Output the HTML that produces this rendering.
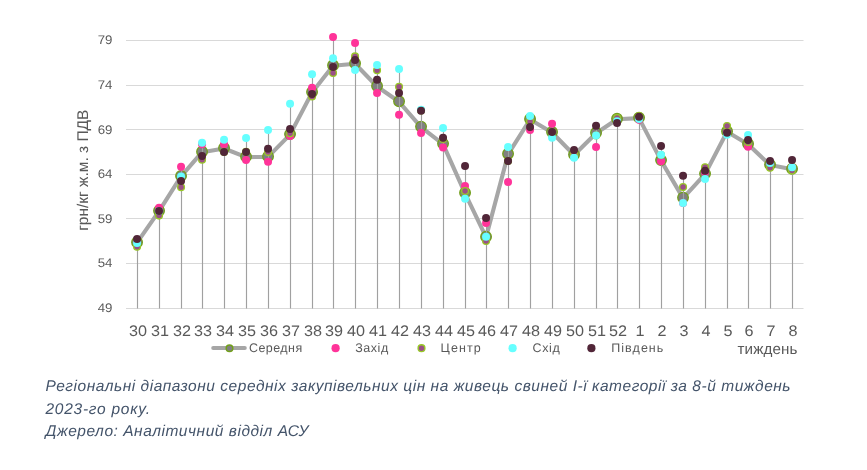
<!DOCTYPE html>
<html><head><meta charset="utf-8">
<style>
html,body{margin:0;padding:0;background:#fff;}
body{width:867px;height:470px;overflow:hidden;position:relative;}
svg{position:absolute;left:0;top:0;will-change:transform;}
text{font-family:"Liberation Sans",sans-serif;fill:#595959;text-rendering:geometricPrecision;}
.yt{font-size:12.5px;}
.xt{font-size:15.3px;}
.yti{font-size:15.5px;}
.lg{font-size:12.5px;}
.wk{font-size:15.2px;}
.cap{font-style:italic;fill:#44546A;font-size:15.5px;}
</style></head><body>
<svg width="867" height="470" viewBox="0 0 867 470">
<line x1="126" y1="40.5" x2="803.5" y2="40.5" stroke="#D9D9D9" stroke-width="1.05"/>
<line x1="126" y1="85.5" x2="803.5" y2="85.5" stroke="#D9D9D9" stroke-width="1.05"/>
<line x1="126" y1="129.5" x2="803.5" y2="129.5" stroke="#D9D9D9" stroke-width="1.05"/>
<line x1="126" y1="174.5" x2="803.5" y2="174.5" stroke="#D9D9D9" stroke-width="1.05"/>
<line x1="126" y1="218.5" x2="803.5" y2="218.5" stroke="#D9D9D9" stroke-width="1.05"/>
<line x1="126" y1="263.5" x2="803.5" y2="263.5" stroke="#D9D9D9" stroke-width="1.05"/>
<line x1="126" y1="308.5" x2="803.5" y2="308.5" stroke="#D9D9D9" stroke-width="1.05"/>
<text transform="translate(112.4,44.40) scale(1.06,1)" text-anchor="end" class="yt">79</text>
<text transform="translate(112.4,88.98) scale(1.06,1)" text-anchor="end" class="yt">74</text>
<text transform="translate(112.4,133.57) scale(1.06,1)" text-anchor="end" class="yt">69</text>
<text transform="translate(112.4,178.15) scale(1.06,1)" text-anchor="end" class="yt">64</text>
<text transform="translate(112.4,222.73) scale(1.06,1)" text-anchor="end" class="yt">59</text>
<text transform="translate(112.4,267.32) scale(1.06,1)" text-anchor="end" class="yt">54</text>
<text transform="translate(112.4,311.90) scale(1.06,1)" text-anchor="end" class="yt">49</text>
<polyline points="137.05,242.70 159.05,211.20 181.05,176.40 202.05,152.20 224.05,148.50 246.05,157.10 268.05,156.90 290.05,134.60 312.05,92.50 333.05,65.70 355.05,63.80 377.05,86.50 399.05,101.80 421.05,127.10 443.05,144.10 465.05,193.30 486.05,237.20 508.05,154.30 530.05,119.50 552.05,132.50 574.05,155.00 596.05,133.30 617.05,119.20 639.05,118.10 661.05,160.60 683.05,198.10 705.05,174.10 727.05,131.80 748.05,144.30 770.05,165.10 792.05,169.30" fill="none" stroke="#A6A6A6" stroke-width="4.1" stroke-linejoin="round" stroke-linecap="round"/>
<circle cx="137.05" cy="242.20" r="5.3" fill="#808080" stroke="#72A01A" stroke-width="1.3"/>
<circle cx="159.05" cy="210.70" r="5.3" fill="#808080" stroke="#72A01A" stroke-width="1.3"/>
<circle cx="181.05" cy="175.90" r="5.3" fill="#808080" stroke="#72A01A" stroke-width="1.3"/>
<circle cx="202.05" cy="151.70" r="5.3" fill="#808080" stroke="#72A01A" stroke-width="1.3"/>
<circle cx="224.05" cy="148.00" r="5.3" fill="#808080" stroke="#72A01A" stroke-width="1.3"/>
<circle cx="246.05" cy="156.60" r="5.3" fill="#808080" stroke="#72A01A" stroke-width="1.3"/>
<circle cx="268.05" cy="156.40" r="5.3" fill="#808080" stroke="#72A01A" stroke-width="1.3"/>
<circle cx="290.05" cy="134.10" r="5.3" fill="#808080" stroke="#72A01A" stroke-width="1.3"/>
<circle cx="312.05" cy="92.00" r="5.3" fill="#808080" stroke="#72A01A" stroke-width="1.3"/>
<circle cx="333.05" cy="65.20" r="5.3" fill="#808080" stroke="#72A01A" stroke-width="1.3"/>
<circle cx="355.05" cy="63.30" r="5.3" fill="#808080" stroke="#72A01A" stroke-width="1.3"/>
<circle cx="377.05" cy="86.00" r="5.3" fill="#808080" stroke="#72A01A" stroke-width="1.3"/>
<circle cx="399.05" cy="101.30" r="5.3" fill="#808080" stroke="#72A01A" stroke-width="1.3"/>
<circle cx="421.05" cy="126.60" r="5.3" fill="#808080" stroke="#72A01A" stroke-width="1.3"/>
<circle cx="443.05" cy="143.60" r="5.3" fill="#808080" stroke="#72A01A" stroke-width="1.3"/>
<circle cx="465.05" cy="192.80" r="5.3" fill="#808080" stroke="#72A01A" stroke-width="1.3"/>
<circle cx="486.05" cy="236.70" r="5.3" fill="#808080" stroke="#72A01A" stroke-width="1.3"/>
<circle cx="508.05" cy="153.80" r="5.3" fill="#808080" stroke="#72A01A" stroke-width="1.3"/>
<circle cx="530.05" cy="119.00" r="5.3" fill="#808080" stroke="#72A01A" stroke-width="1.3"/>
<circle cx="552.05" cy="132.00" r="5.3" fill="#808080" stroke="#72A01A" stroke-width="1.3"/>
<circle cx="574.05" cy="154.50" r="5.3" fill="#808080" stroke="#72A01A" stroke-width="1.3"/>
<circle cx="596.05" cy="132.80" r="5.3" fill="#808080" stroke="#72A01A" stroke-width="1.3"/>
<circle cx="617.05" cy="118.70" r="5.3" fill="#808080" stroke="#72A01A" stroke-width="1.3"/>
<circle cx="639.05" cy="117.60" r="5.3" fill="#808080" stroke="#72A01A" stroke-width="1.3"/>
<circle cx="661.05" cy="160.10" r="5.3" fill="#808080" stroke="#72A01A" stroke-width="1.3"/>
<circle cx="683.05" cy="197.60" r="5.3" fill="#808080" stroke="#72A01A" stroke-width="1.3"/>
<circle cx="705.05" cy="173.60" r="5.3" fill="#808080" stroke="#72A01A" stroke-width="1.3"/>
<circle cx="727.05" cy="131.30" r="5.3" fill="#808080" stroke="#72A01A" stroke-width="1.3"/>
<circle cx="748.05" cy="143.80" r="5.3" fill="#808080" stroke="#72A01A" stroke-width="1.3"/>
<circle cx="770.05" cy="164.60" r="5.3" fill="#808080" stroke="#72A01A" stroke-width="1.3"/>
<circle cx="792.05" cy="168.80" r="5.3" fill="#808080" stroke="#72A01A" stroke-width="1.3"/>
<line x1="137.50" y1="238.90" x2="137.50" y2="308.5" stroke="#A0A0A0" stroke-width="1.15"/>
<line x1="159.50" y1="207.70" x2="159.50" y2="308.5" stroke="#A0A0A0" stroke-width="1.15"/>
<line x1="181.50" y1="166.80" x2="181.50" y2="308.5" stroke="#A0A0A0" stroke-width="1.15"/>
<line x1="202.50" y1="142.80" x2="202.50" y2="308.5" stroke="#A0A0A0" stroke-width="1.15"/>
<line x1="224.50" y1="139.70" x2="224.50" y2="308.5" stroke="#A0A0A0" stroke-width="1.15"/>
<line x1="246.50" y1="137.90" x2="246.50" y2="308.5" stroke="#A0A0A0" stroke-width="1.15"/>
<line x1="268.50" y1="130.10" x2="268.50" y2="308.5" stroke="#A0A0A0" stroke-width="1.15"/>
<line x1="290.50" y1="103.80" x2="290.50" y2="308.5" stroke="#A0A0A0" stroke-width="1.15"/>
<line x1="312.50" y1="74.30" x2="312.50" y2="308.5" stroke="#A0A0A0" stroke-width="1.15"/>
<line x1="333.50" y1="37.00" x2="333.50" y2="308.5" stroke="#A0A0A0" stroke-width="1.15"/>
<line x1="355.50" y1="42.90" x2="355.50" y2="308.5" stroke="#A0A0A0" stroke-width="1.15"/>
<line x1="377.50" y1="64.90" x2="377.50" y2="308.5" stroke="#A0A0A0" stroke-width="1.15"/>
<line x1="399.50" y1="68.90" x2="399.50" y2="308.5" stroke="#A0A0A0" stroke-width="1.15"/>
<line x1="421.50" y1="109.80" x2="421.50" y2="308.5" stroke="#A0A0A0" stroke-width="1.15"/>
<line x1="443.50" y1="128.00" x2="443.50" y2="308.5" stroke="#A0A0A0" stroke-width="1.15"/>
<line x1="465.50" y1="165.90" x2="465.50" y2="308.5" stroke="#A0A0A0" stroke-width="1.15"/>
<line x1="486.50" y1="218.00" x2="486.50" y2="308.5" stroke="#A0A0A0" stroke-width="1.15"/>
<line x1="508.50" y1="147.00" x2="508.50" y2="308.5" stroke="#A0A0A0" stroke-width="1.15"/>
<line x1="530.50" y1="115.90" x2="530.50" y2="308.5" stroke="#A0A0A0" stroke-width="1.15"/>
<line x1="552.50" y1="123.70" x2="552.50" y2="308.5" stroke="#A0A0A0" stroke-width="1.15"/>
<line x1="574.50" y1="150.00" x2="574.50" y2="308.5" stroke="#A0A0A0" stroke-width="1.15"/>
<line x1="596.50" y1="125.80" x2="596.50" y2="308.5" stroke="#A0A0A0" stroke-width="1.15"/>
<line x1="617.50" y1="118.00" x2="617.50" y2="308.5" stroke="#A0A0A0" stroke-width="1.15"/>
<line x1="639.50" y1="116.00" x2="639.50" y2="308.5" stroke="#A0A0A0" stroke-width="1.15"/>
<line x1="661.50" y1="145.90" x2="661.50" y2="308.5" stroke="#A0A0A0" stroke-width="1.15"/>
<line x1="683.50" y1="175.80" x2="683.50" y2="308.5" stroke="#A0A0A0" stroke-width="1.15"/>
<line x1="705.50" y1="167.20" x2="705.50" y2="308.5" stroke="#A0A0A0" stroke-width="1.15"/>
<line x1="727.50" y1="126.00" x2="727.50" y2="308.5" stroke="#A0A0A0" stroke-width="1.15"/>
<line x1="748.50" y1="135.00" x2="748.50" y2="308.5" stroke="#A0A0A0" stroke-width="1.15"/>
<line x1="770.50" y1="160.90" x2="770.50" y2="308.5" stroke="#A0A0A0" stroke-width="1.15"/>
<line x1="792.50" y1="159.90" x2="792.50" y2="308.5" stroke="#A0A0A0" stroke-width="1.15"/>
<circle cx="137.05" cy="243.10" r="4.0" fill="#FF3399"/>
<circle cx="159.05" cy="207.70" r="4.0" fill="#FF3399"/>
<circle cx="181.05" cy="166.80" r="4.0" fill="#FF3399"/>
<circle cx="202.05" cy="144.30" r="4.0" fill="#FF3399"/>
<circle cx="224.05" cy="144.30" r="4.0" fill="#FF3399"/>
<circle cx="246.05" cy="159.90" r="4.0" fill="#FF3399"/>
<circle cx="268.05" cy="161.70" r="4.0" fill="#FF3399"/>
<circle cx="290.05" cy="135.90" r="4.0" fill="#FF3399"/>
<circle cx="312.05" cy="87.70" r="4.0" fill="#FF3399"/>
<circle cx="333.05" cy="37.00" r="4.0" fill="#FF3399"/>
<circle cx="355.05" cy="42.90" r="4.0" fill="#FF3399"/>
<circle cx="377.05" cy="93.10" r="4.0" fill="#FF3399"/>
<circle cx="399.05" cy="114.80" r="4.0" fill="#FF3399"/>
<circle cx="421.05" cy="133.00" r="4.0" fill="#FF3399"/>
<circle cx="443.05" cy="147.40" r="4.0" fill="#FF3399"/>
<circle cx="465.05" cy="185.90" r="4.0" fill="#FF3399"/>
<circle cx="486.05" cy="223.10" r="4.0" fill="#FF3399"/>
<circle cx="508.05" cy="181.90" r="4.0" fill="#FF3399"/>
<circle cx="530.05" cy="130.10" r="4.0" fill="#FF3399"/>
<circle cx="552.05" cy="123.70" r="4.0" fill="#FF3399"/>
<circle cx="574.05" cy="154.50" r="4.0" fill="#FF3399"/>
<circle cx="596.05" cy="147.00" r="4.0" fill="#FF3399"/>
<circle cx="617.05" cy="120.60" r="4.0" fill="#FF3399"/>
<circle cx="639.05" cy="119.70" r="4.0" fill="#FF3399"/>
<circle cx="661.05" cy="161.20" r="4.0" fill="#FF3399"/>
<circle cx="683.05" cy="203.10" r="4.0" fill="#FF3399"/>
<circle cx="705.05" cy="171.90" r="4.0" fill="#FF3399"/>
<circle cx="727.05" cy="132.70" r="4.0" fill="#FF3399"/>
<circle cx="748.05" cy="146.70" r="4.0" fill="#FF3399"/>
<circle cx="770.05" cy="163.10" r="4.0" fill="#FF3399"/>
<circle cx="792.05" cy="167.30" r="4.0" fill="#FF3399"/>
<circle cx="137.05" cy="246.80" r="3.4" fill="#9A5086" stroke="#98C828" stroke-width="1.3"/>
<circle cx="159.05" cy="215.60" r="3.4" fill="#9A5086" stroke="#98C828" stroke-width="1.3"/>
<circle cx="181.05" cy="187.20" r="3.4" fill="#9A5086" stroke="#98C828" stroke-width="1.3"/>
<circle cx="202.05" cy="159.70" r="3.4" fill="#9A5086" stroke="#98C828" stroke-width="1.3"/>
<circle cx="224.05" cy="151.90" r="3.4" fill="#9A5086" stroke="#98C828" stroke-width="1.3"/>
<circle cx="246.05" cy="151.90" r="3.4" fill="#9A5086" stroke="#98C828" stroke-width="1.3"/>
<circle cx="268.05" cy="152.00" r="3.4" fill="#9A5086" stroke="#98C828" stroke-width="1.3"/>
<circle cx="290.05" cy="133.20" r="3.4" fill="#9A5086" stroke="#98C828" stroke-width="1.3"/>
<circle cx="312.05" cy="96.40" r="3.4" fill="#9A5086" stroke="#98C828" stroke-width="1.3"/>
<circle cx="333.05" cy="73.00" r="3.4" fill="#9A5086" stroke="#98C828" stroke-width="1.3"/>
<circle cx="355.05" cy="56.40" r="3.4" fill="#9A5086" stroke="#98C828" stroke-width="1.3"/>
<circle cx="377.05" cy="70.20" r="3.4" fill="#9A5086" stroke="#98C828" stroke-width="1.3"/>
<circle cx="399.05" cy="86.80" r="3.4" fill="#9A5086" stroke="#98C828" stroke-width="1.3"/>
<circle cx="421.05" cy="110.50" r="3.4" fill="#9A5086" stroke="#98C828" stroke-width="1.3"/>
<circle cx="443.05" cy="139.00" r="3.4" fill="#9A5086" stroke="#98C828" stroke-width="1.3"/>
<circle cx="465.05" cy="191.00" r="3.4" fill="#9A5086" stroke="#98C828" stroke-width="1.3"/>
<circle cx="486.05" cy="241.00" r="3.4" fill="#9A5086" stroke="#98C828" stroke-width="1.3"/>
<circle cx="508.05" cy="161.00" r="3.4" fill="#9A5086" stroke="#98C828" stroke-width="1.3"/>
<circle cx="530.05" cy="121.40" r="3.4" fill="#9A5086" stroke="#98C828" stroke-width="1.3"/>
<circle cx="552.05" cy="132.00" r="3.4" fill="#9A5086" stroke="#98C828" stroke-width="1.3"/>
<circle cx="574.05" cy="154.50" r="3.4" fill="#9A5086" stroke="#98C828" stroke-width="1.3"/>
<circle cx="596.05" cy="135.50" r="3.4" fill="#9A5086" stroke="#98C828" stroke-width="1.3"/>
<circle cx="617.05" cy="118.00" r="3.4" fill="#9A5086" stroke="#98C828" stroke-width="1.3"/>
<circle cx="639.05" cy="116.00" r="3.4" fill="#9A5086" stroke="#98C828" stroke-width="1.3"/>
<circle cx="661.05" cy="155.00" r="3.4" fill="#9A5086" stroke="#98C828" stroke-width="1.3"/>
<circle cx="683.05" cy="187.10" r="3.4" fill="#9A5086" stroke="#98C828" stroke-width="1.3"/>
<circle cx="705.05" cy="167.20" r="3.4" fill="#9A5086" stroke="#98C828" stroke-width="1.3"/>
<circle cx="727.05" cy="126.00" r="3.4" fill="#9A5086" stroke="#98C828" stroke-width="1.3"/>
<circle cx="748.05" cy="141.90" r="3.4" fill="#9A5086" stroke="#98C828" stroke-width="1.3"/>
<circle cx="770.05" cy="167.80" r="3.4" fill="#9A5086" stroke="#98C828" stroke-width="1.3"/>
<circle cx="792.05" cy="170.50" r="3.4" fill="#9A5086" stroke="#98C828" stroke-width="1.3"/>
<circle cx="137.05" cy="243.10" r="4.0" fill="#66FFFF"/>
<circle cx="159.05" cy="211.00" r="4.0" fill="#66FFFF"/>
<circle cx="181.05" cy="176.50" r="4.0" fill="#66FFFF"/>
<circle cx="202.05" cy="142.80" r="4.0" fill="#66FFFF"/>
<circle cx="224.05" cy="139.70" r="4.0" fill="#66FFFF"/>
<circle cx="246.05" cy="137.90" r="4.0" fill="#66FFFF"/>
<circle cx="268.05" cy="130.10" r="4.0" fill="#66FFFF"/>
<circle cx="290.05" cy="103.80" r="4.0" fill="#66FFFF"/>
<circle cx="312.05" cy="74.30" r="4.0" fill="#66FFFF"/>
<circle cx="333.05" cy="58.30" r="4.0" fill="#66FFFF"/>
<circle cx="355.05" cy="69.90" r="4.0" fill="#66FFFF"/>
<circle cx="377.05" cy="64.90" r="4.0" fill="#66FFFF"/>
<circle cx="399.05" cy="68.90" r="4.0" fill="#66FFFF"/>
<circle cx="421.05" cy="109.80" r="4.0" fill="#66FFFF"/>
<circle cx="443.05" cy="128.00" r="4.0" fill="#66FFFF"/>
<circle cx="465.05" cy="198.80" r="4.0" fill="#66FFFF"/>
<circle cx="486.05" cy="236.70" r="4.0" fill="#66FFFF"/>
<circle cx="508.05" cy="147.00" r="4.0" fill="#66FFFF"/>
<circle cx="530.05" cy="115.90" r="4.0" fill="#66FFFF"/>
<circle cx="552.05" cy="137.70" r="4.0" fill="#66FFFF"/>
<circle cx="574.05" cy="157.80" r="4.0" fill="#66FFFF"/>
<circle cx="596.05" cy="135.50" r="4.0" fill="#66FFFF"/>
<circle cx="617.05" cy="121.20" r="4.0" fill="#66FFFF"/>
<circle cx="639.05" cy="119.00" r="4.0" fill="#66FFFF"/>
<circle cx="661.05" cy="154.80" r="4.0" fill="#66FFFF"/>
<circle cx="683.05" cy="203.10" r="4.0" fill="#66FFFF"/>
<circle cx="705.05" cy="179.10" r="4.0" fill="#66FFFF"/>
<circle cx="727.05" cy="134.70" r="4.0" fill="#66FFFF"/>
<circle cx="748.05" cy="135.00" r="4.0" fill="#66FFFF"/>
<circle cx="770.05" cy="163.10" r="4.0" fill="#66FFFF"/>
<circle cx="792.05" cy="167.30" r="4.0" fill="#66FFFF"/>
<circle cx="137.05" cy="238.90" r="4.0" fill="#512638"/>
<circle cx="159.05" cy="211.00" r="4.0" fill="#512638"/>
<circle cx="181.05" cy="181.10" r="4.0" fill="#512638"/>
<circle cx="202.05" cy="156.00" r="4.0" fill="#512638"/>
<circle cx="224.05" cy="151.90" r="4.0" fill="#512638"/>
<circle cx="246.05" cy="151.90" r="4.0" fill="#512638"/>
<circle cx="268.05" cy="148.80" r="4.0" fill="#512638"/>
<circle cx="290.05" cy="128.90" r="4.0" fill="#512638"/>
<circle cx="312.05" cy="93.90" r="4.0" fill="#512638"/>
<circle cx="333.05" cy="66.90" r="4.0" fill="#512638"/>
<circle cx="355.05" cy="59.90" r="4.0" fill="#512638"/>
<circle cx="377.05" cy="79.80" r="4.0" fill="#512638"/>
<circle cx="399.05" cy="93.00" r="4.0" fill="#512638"/>
<circle cx="421.05" cy="110.80" r="4.0" fill="#512638"/>
<circle cx="443.05" cy="137.80" r="4.0" fill="#512638"/>
<circle cx="465.05" cy="165.90" r="4.0" fill="#512638"/>
<circle cx="486.05" cy="218.00" r="4.0" fill="#512638"/>
<circle cx="508.05" cy="161.00" r="4.0" fill="#512638"/>
<circle cx="530.05" cy="127.10" r="4.0" fill="#512638"/>
<circle cx="552.05" cy="132.00" r="4.0" fill="#512638"/>
<circle cx="574.05" cy="150.00" r="4.0" fill="#512638"/>
<circle cx="596.05" cy="125.80" r="4.0" fill="#512638"/>
<circle cx="617.05" cy="123.00" r="4.0" fill="#512638"/>
<circle cx="639.05" cy="116.80" r="4.0" fill="#512638"/>
<circle cx="661.05" cy="145.90" r="4.0" fill="#512638"/>
<circle cx="683.05" cy="175.80" r="4.0" fill="#512638"/>
<circle cx="705.05" cy="170.80" r="4.0" fill="#512638"/>
<circle cx="727.05" cy="132.70" r="4.0" fill="#512638"/>
<circle cx="748.05" cy="140.00" r="4.0" fill="#512638"/>
<circle cx="770.05" cy="160.90" r="4.0" fill="#512638"/>
<circle cx="792.05" cy="159.90" r="4.0" fill="#512638"/>
<text transform="translate(137.90,336.0) scale(1.06,1)" text-anchor="middle" class="xt">30</text>
<text transform="translate(159.90,336.0) scale(1.06,1)" text-anchor="middle" class="xt">31</text>
<text transform="translate(181.90,336.0) scale(1.06,1)" text-anchor="middle" class="xt">32</text>
<text transform="translate(202.90,336.0) scale(1.06,1)" text-anchor="middle" class="xt">33</text>
<text transform="translate(224.90,336.0) scale(1.06,1)" text-anchor="middle" class="xt">34</text>
<text transform="translate(246.90,336.0) scale(1.06,1)" text-anchor="middle" class="xt">35</text>
<text transform="translate(268.90,336.0) scale(1.06,1)" text-anchor="middle" class="xt">36</text>
<text transform="translate(290.90,336.0) scale(1.06,1)" text-anchor="middle" class="xt">37</text>
<text transform="translate(312.90,336.0) scale(1.06,1)" text-anchor="middle" class="xt">38</text>
<text transform="translate(333.90,336.0) scale(1.06,1)" text-anchor="middle" class="xt">39</text>
<text transform="translate(355.90,336.0) scale(1.06,1)" text-anchor="middle" class="xt">40</text>
<text transform="translate(377.90,336.0) scale(1.06,1)" text-anchor="middle" class="xt">41</text>
<text transform="translate(399.90,336.0) scale(1.06,1)" text-anchor="middle" class="xt">42</text>
<text transform="translate(421.90,336.0) scale(1.06,1)" text-anchor="middle" class="xt">43</text>
<text transform="translate(443.90,336.0) scale(1.06,1)" text-anchor="middle" class="xt">44</text>
<text transform="translate(465.90,336.0) scale(1.06,1)" text-anchor="middle" class="xt">45</text>
<text transform="translate(486.90,336.0) scale(1.06,1)" text-anchor="middle" class="xt">46</text>
<text transform="translate(508.90,336.0) scale(1.06,1)" text-anchor="middle" class="xt">47</text>
<text transform="translate(530.90,336.0) scale(1.06,1)" text-anchor="middle" class="xt">48</text>
<text transform="translate(552.90,336.0) scale(1.06,1)" text-anchor="middle" class="xt">49</text>
<text transform="translate(574.90,336.0) scale(1.06,1)" text-anchor="middle" class="xt">50</text>
<text transform="translate(596.90,336.0) scale(1.06,1)" text-anchor="middle" class="xt">51</text>
<text transform="translate(617.90,336.0) scale(1.06,1)" text-anchor="middle" class="xt">52</text>
<text transform="translate(639.90,336.0) scale(1.06,1)" text-anchor="middle" class="xt">1</text>
<text transform="translate(661.90,336.0) scale(1.06,1)" text-anchor="middle" class="xt">2</text>
<text transform="translate(683.90,336.0) scale(1.06,1)" text-anchor="middle" class="xt">3</text>
<text transform="translate(705.90,336.0) scale(1.06,1)" text-anchor="middle" class="xt">4</text>
<text transform="translate(727.90,336.0) scale(1.06,1)" text-anchor="middle" class="xt">5</text>
<text transform="translate(748.90,336.0) scale(1.06,1)" text-anchor="middle" class="xt">6</text>
<text transform="translate(770.90,336.0) scale(1.06,1)" text-anchor="middle" class="xt">7</text>
<text transform="translate(792.90,336.0) scale(1.06,1)" text-anchor="middle" class="xt">8</text>
<text transform="translate(88.0,230.8) rotate(-90)" x="0" y="0" class="yti">грн/кг ж.м. з ПДВ</text>
<line x1="213.2" y1="348" x2="244.8" y2="348" stroke="#A6A6A6" stroke-width="4" stroke-linecap="round"/>
<circle cx="229.5" cy="348.2" r="3.3" fill="#808080" stroke="#72A01A" stroke-width="1.5"/>
<text x="249" y="352.3" class="lg" textLength="53.2" lengthAdjust="spacing">Середня</text>
<circle cx="335.6" cy="348.2" r="4.1" fill="#FF3399"/>
<text x="355.2" y="352.3" class="lg" textLength="33" lengthAdjust="spacing">Захід</text>
<circle cx="421.5" cy="348.2" r="3.4" fill="#9A5086" stroke="#98C828" stroke-width="1.4"/>
<text x="440.5" y="352.3" class="lg" textLength="40.3" lengthAdjust="spacing">Центр</text>
<circle cx="512.6" cy="348.2" r="4.1" fill="#66FFFF"/>
<text x="532.5" y="352.3" class="lg" textLength="27.3" lengthAdjust="spacing">Схід</text>
<circle cx="591.4" cy="348.2" r="4.1" fill="#512638"/>
<text x="611.2" y="352.3" class="lg" textLength="52.1" lengthAdjust="spacing">Південь</text>
<text x="737.5" y="353.8" class="wk" textLength="60" lengthAdjust="spacing">тиждень</text>
<text x="45.5" y="390.6" class="cap" textLength="745" lengthAdjust="spacing">Регіональні діапазони середніх закупівельних цін на живець свиней I-ї категорії за 8-й тиждень</text>
<text x="45.5" y="413.8" class="cap" textLength="104.5" lengthAdjust="spacing">2023-го року.</text>
<text x="45.5" y="435.9" class="cap" textLength="263" lengthAdjust="spacing">Джерело: Аналітичний відділ АСУ</text>
</svg>
</body></html>
